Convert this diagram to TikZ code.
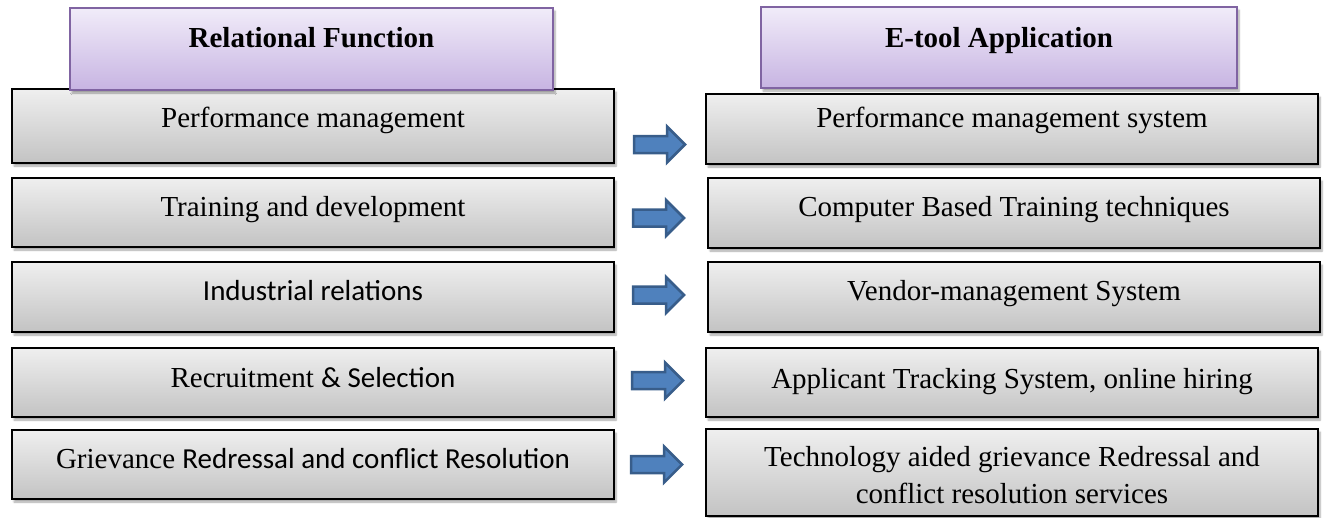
\documentclass[tikz,border=0pt]{standalone}
\usepackage{fontspec}
\setmainfont{Liberation Serif}
\newfontfamily\calfont{Carlito}
\usetikzlibrary{shadows.blur}
\definecolor{boxtop}{HTML}{EFEFEF}
\definecolor{boxbot}{HTML}{C3C3C3}
\definecolor{hdtop}{HTML}{F1ECF9}
\definecolor{hdbot}{HTML}{C7B4E2}
\definecolor{hdline}{HTML}{8064A2}
\definecolor{arrfill}{HTML}{4F81BD}
\definecolor{arrline}{HTML}{385D8A}
\tikzset{
  gbox/.style={rectangle, draw=black, line width=2pt, top color=boxtop, bottom color=boxbot,
    inner sep=0pt, blur shadow={shadow xshift=2pt, shadow yshift=-3pt, shadow blur steps=6, shadow opacity=35}},
  hbox/.style={rectangle, draw=hdline, line width=2pt, top color=hdtop, bottom color=hdbot,
    inner sep=0pt, blur shadow={shadow xshift=2pt, shadow yshift=-3pt, shadow blur steps=6, shadow opacity=35}},
  txt/.style={anchor=base, inner sep=0pt, font=\fontsize{29}{37}\selectfont, align=center},
  htxt/.style={anchor=base, inner sep=0pt, font=\fontsize{29}{37}\selectfont\bfseries},
  barrow/.pic={\draw[fill=arrfill, draw=arrline, line width=2.5pt, line join=miter]
    (0,-8.5) -- (33,-8.5) -- (33,-18) -- (51,0) -- (33,18) -- (33,8.5) -- (0,8.5) -- cycle;}
}
\begin{document}
\begin{tikzpicture}[x=1pt,y=-1pt]
\useasboundingbox (0,0) rectangle (1324,517);
% left boxes
\node[gbox, minimum width=602pt, minimum height=74pt] (l1) at (313,126) {};
\node[gbox, minimum width=602pt, minimum height=69pt] (l2) at (313,212.5) {};
\node[gbox, minimum width=602pt, minimum height=70pt] (l3) at (313,297) {};
\node[gbox, minimum width=602pt, minimum height=69pt] (l4) at (313,382.5) {};
\node[gbox, minimum width=602pt, minimum height=69pt] (l5) at (313,464.5) {};
% right boxes
\node[gbox, minimum width=612pt, minimum height=70pt] (r1) at (1012,129) {};
\node[gbox, minimum width=612pt, minimum height=70pt] (r2) at (1014,213) {};
\node[gbox, minimum width=612pt, minimum height=70pt] (r3) at (1014,297) {};
\node[gbox, minimum width=612pt, minimum height=69pt] (r4) at (1012,382.5) {};
\node[gbox, minimum width=612pt, minimum height=87pt] (r5) at (1012,472.5) {};
% headers
\node[hbox, minimum width=483pt, minimum height=82pt] (hl) at (311.5,49) {};
\node[hbox, minimum width=476pt, minimum height=81pt] (hr) at (999,47.5) {};
% header texts
\node[htxt] (thl) at (311.5,47) {Relational Function};
\node[htxt] (thr) at (999,47) {E-tool Application};
% left texts
\node[txt] (tl1) at (313,127) {Performance management};
\node[txt] (tl2) at (313,216) {Training and development};
\node[txt] (tl3) at (313,300) {\calfont Industrial relations};
\node[txt] (tl4) at (313,387) {Recruitment {\calfont\& Selection}};
\node[txt] (tl5) at (313,468) {Grievance {\calfont Redressal and conflict Resolution}};
% right texts
\node[txt] (tr1) at (1012,127) {Performance management system};
\node[txt] (tr2) at (1014,216) {Computer Based Training techniques};
\node[txt] (tr3) at (1014,300) {Vendor-management System};
\node[txt] (tr4) at (1012,388) {Applicant Tracking System, online hiring};
\node[txt] (tr5) at (1012,503) {Technology aided grievance Redressal and\\conflict resolution services};
% arrows
\pic at (634,144.5) {barrow};
\pic at (633,218) {barrow};
\pic at (633,295) {barrow};
\pic at (632,380.5) {barrow};
\pic at (631,464.5) {barrow};
\end{tikzpicture}
\end{document}
